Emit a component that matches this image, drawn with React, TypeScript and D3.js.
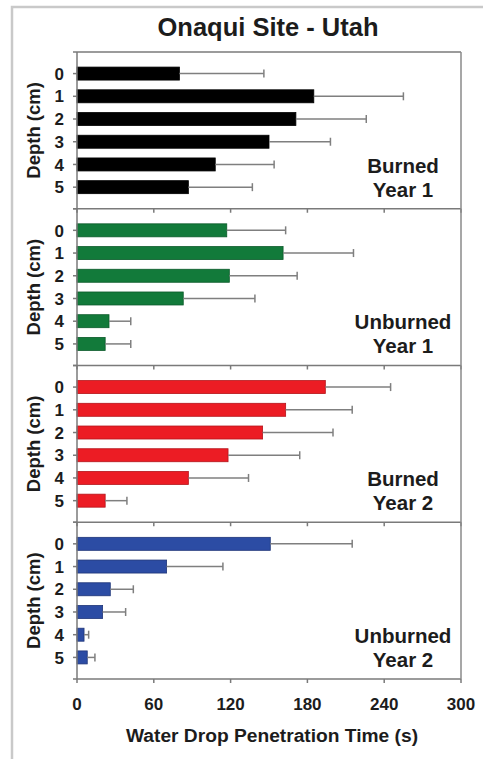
import React from 'react';
import * as d3 from 'd3';

const categories = ['0', '1', '2', '3', '4', '5'];
const xTicks = [0, 60, 120, 180, 240, 300];

const burnedY1 = [80, 185, 171, 150, 108, 87];
const burnedY1Err = [66, 70, 55, 48, 46, 50];
const unburnedY1 = [117, 161, 119, 83, 25, 22];
const unburnedY1Err = [46, 55, 53, 56, 17, 20];
const burnedY2 = [194, 163, 145, 118, 87, 22];
const burnedY2Err = [51, 52, 55, 56, 47, 17];
const unburnedY2 = [151, 70, 26, 20, 5.5, 8];
const unburnedY2Err = [64, 44, 18, 18, 3.6, 6];

const panelLabels = [
  ['Burned', 'Year 1'],
  ['Unburned', 'Year 1'],
  ['Burned', 'Year 2'],
  ['Unburned', 'Year 2'],
];
const panelColors = ['#000000', '#127a3a', '#ec1c24', '#2c4ca4'];
const panelStrokes = ['#000000', '#0b5a2a', '#b5141a', '#1e3578'];

const panels = [
  { values: burnedY1, errs: burnedY1Err },
  { values: unburnedY1, errs: unburnedY1Err },
  { values: burnedY2, errs: burnedY2Err },
  { values: unburnedY2, errs: unburnedY2Err },
];

const FONT = "'Liberation Sans', Arial, Helvetica, sans-serif";
const TEXT = '#1c1c1c';

export default function App() {
  const W = 483;
  const H = 759;
  const left = 77;
  const right = 461;
  const top = 52;
  const bottom = 679;

  const x = d3.scaleLinear().domain([0, 300]).range([left, right]);
  const panelScale = d3
    .scaleBand<number>()
    .domain(panels.map((_, i) => i))
    .range([top, bottom])
    .padding(0);
  const pH = panelScale.bandwidth();
  const barH = 13;
  const axisGray = '#7a7a7a';
  const errGray = '#7f7f7f';

  return (
    <svg
      width={W}
      height={H}
      style={{ position: 'absolute', left: 0, top: 0, background: '#fff' }}
      fontFamily={FONT}
    >
      {/* outer frame */}
      <path d={`M12,${H} L12,7 L${W},7`} fill="none" stroke="#c9c9c9" strokeWidth={2.5} />

      <text x={268} y={36} textAnchor="middle" fontSize={25.5} fontWeight="bold" fill={TEXT}>
        Onaqui Site - Utah
      </text>

      {panels.map((p, pi) => {
        const pTop = panelScale(pi)!;
        const pBot = pTop + pH;
        const y = d3.scalePoint<string>().domain(categories).range([pTop, pBot]).padding(0.95);
        return (
          <g key={pi}>
            {/* bars */}
            {p.values.map((v, i) => {
              const cy = y(categories[i])!;
              return (
                <rect
                  key={i}
                  x={x(0)}
                  y={cy - barH / 2}
                  width={x(v) - x(0)}
                  height={barH}
                  fill={panelColors[pi]}
                  stroke={panelStrokes[pi]}
                  strokeWidth={0.8}
                />
              );
            })}
            {/* error bars */}
            {p.values.map((v, i) => {
              const cy = y(categories[i])!;
              const xe = x(v + p.errs[i]);
              return (
                <g key={'e' + i} stroke={errGray} strokeWidth={1.5}>
                  <line x1={x(v)} x2={xe} y1={cy} y2={cy} />
                  <line x1={xe} x2={xe} y1={cy - 4} y2={cy + 4} />
                </g>
              );
            })}
            {/* y ticks */}
            {categories.map((c) => (
              <line key={'t' + c} x1={left - 4} x2={left} y1={y(c)} y2={y(c)} stroke={axisGray} strokeWidth={1.5} />
            ))}
            <line x1={left - 4} x2={left} y1={pTop} y2={pTop} stroke={axisGray} strokeWidth={1.5} />
            <line x1={left - 4} x2={left} y1={pBot} y2={pBot} stroke={axisGray} strokeWidth={1.5} />
            {/* x ticks below each panel */}
            {xTicks.map((t) => (
              <line key={'x' + t} x1={x(t)} x2={x(t)} y1={pBot} y2={pBot + 4} stroke={axisGray} strokeWidth={1.5} />
            ))}
            {/* category labels */}
            {categories.map((c) => (
              <text
                key={'l' + c}
                x={64}
                y={y(c)! + 6.2}
                textAnchor="end"
                fontSize={17}
                fontWeight="bold"
                fill={TEXT}
              >
                {c}
              </text>
            ))}
            {/* y axis title */}
            <text
              transform={`translate(39.5,${pTop + pH / 2}) rotate(-90)`}
              textAnchor="middle"
              fontSize={18.5}
              fontWeight="bold"
              fill={TEXT}
            >
              Depth (cm)
            </text>
            {/* panel label */}
            <text x={403} y={pTop + 120.5} textAnchor="middle" fontSize={20.5} fontWeight="bold" fill={TEXT}>
              {panelLabels[pi][0]}
            </text>
            <text x={403} y={pTop + 144.5} textAnchor="middle" fontSize={20.5} fontWeight="bold" fill={TEXT}>
              {panelLabels[pi][1]}
            </text>
            {/* panel border lines */}
            <line x1={left} x2={right} y1={pBot} y2={pBot} stroke={axisGray} strokeWidth={1.5} />
          </g>
        );
      })}

      {/* plot frame */}
      <line x1={left} x2={right} y1={top} y2={top} stroke={axisGray} strokeWidth={1.5} />
      <line x1={right} x2={right} y1={top} y2={bottom} stroke="#8a8a8a" strokeWidth={1.5} />
      <line x1={left} x2={left} y1={top} y2={bottom} stroke={axisGray} strokeWidth={1.5} />

      {/* x tick labels */}
      {xTicks.map((t) => (
        <text key={'xl' + t} x={x(t)} y={710} textAnchor="middle" fontSize={17} fontWeight="bold" fill={TEXT}>
          {t}
        </text>
      ))}
      <text x={272} y={742} textAnchor="middle" fontSize={19.2} fontWeight="bold" fill={TEXT}>
        Water Drop Penetration Time (s)
      </text>
    </svg>
  );
}
